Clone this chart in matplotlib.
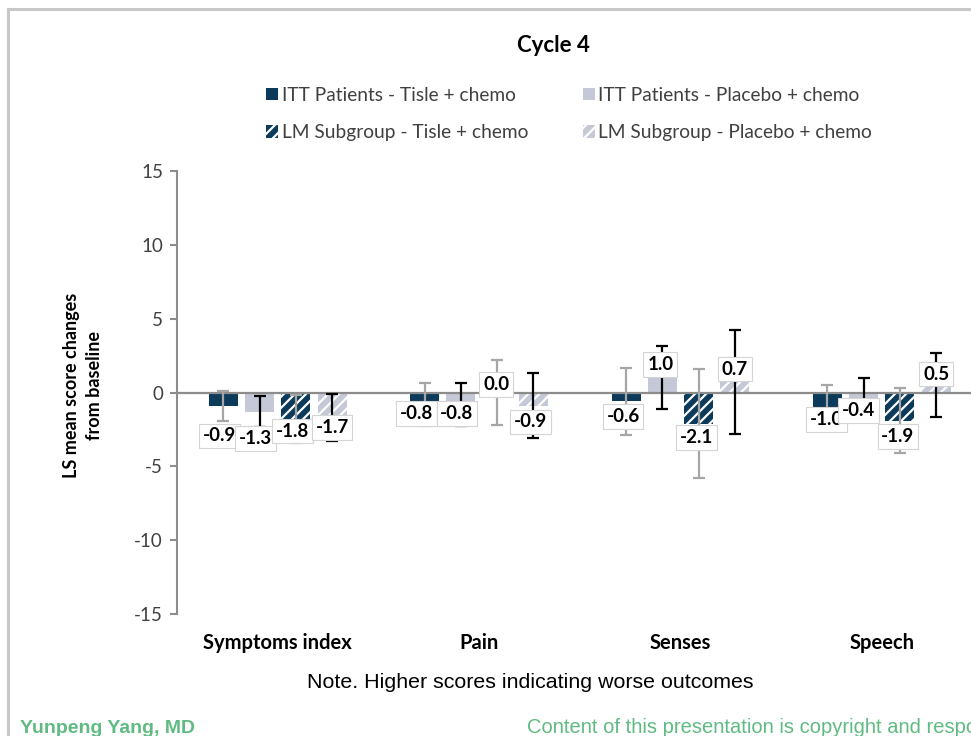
import numpy as np
import matplotlib
matplotlib.use("Agg")
import matplotlib.pyplot as plt
from matplotlib.patches import Patch
from matplotlib.lines import Line2D

categories = ["Symptoms index", "Pain", "Senses", "Speech"]
series_names = ["ITT Patients - Tisle + chemo", "ITT Patients - Placebo + chemo",
                "LM Subgroup - Tisle + chemo", "LM Subgroup - Placebo + chemo"]

itt_tisle = [-0.9, -0.8, -0.6, -1.0]
itt_placebo = [-1.3, -0.8, 1.0, -0.4]
lm_tisle = [-1.8, 0.0, -2.1, -1.9]
lm_placebo = [-1.7, -0.9, 0.7, 0.5]

itt_tisle_err = [1.0, 1.45, 2.25, 1.5]
itt_placebo_err = [1.05, 1.45, 2.15, 1.4]
lm_tisle_err = [1.65, 2.2, 3.7, 2.2]
lm_placebo_err = [1.6, 2.2, 3.5, 2.15]

yticks = [-15, -10, -5, 0, 5, 10, 15]

# label offsets in pixels (dx, dy) relative to bar end, per series
label_offsets = [
    [(-4, -30), (-8, -9), (-3, -15), (-1, -12)],
    [(-4, -27), (-4, -9), (-2, 13), (-5, -12)],
    [(-3, -12), (-1, 8), (-2, -14), (-2, -16)],
    [(0, -10), (-3, -16), (0, 13), (0, 11)],
]

NAVY = "#0b3a5a"
LIGHT = "#c4c8d7"
GREY_ERR = "#a6a6a6"
TXT = "#404040"
GREEN = "#5fbb82"

plt.rcParams["font.family"] = ["Lato", "DejaVu Sans"]
plt.rcParams["hatch.linewidth"] = 1.6
plt.rcParams["axes.unicode_minus"] = False

W, H = 971, 736
fig = plt.figure(figsize=(W / 100, H / 100), dpi=100)

# slide frame
fig.add_artist(Line2D([8 / W, 8 / W], [0, 1 - 9 / H], color="#c8c8c8", lw=2.2))
fig.add_artist(Line2D([8 / W, 1], [1 - 9 / H, 1 - 9 / H], color="#c8c8c8", lw=2.2))

ax = fig.add_axes([177 / W, 1 - 614 / H, (971 - 177) / W, (614 - 171) / H])
ax.set_xlim(-0.5, 3.443)
ax.set_ylim(-15, 15)

x = np.arange(len(categories))
width = 0.144
offsets = [-0.27, -0.09, 0.09, 0.27]
values = [itt_tisle, itt_placebo, lm_tisle, lm_placebo]
errors = [itt_tisle_err, itt_placebo_err, lm_tisle_err, lm_placebo_err]
faces = [NAVY, LIGHT, NAVY, LIGHT]
hatches = [None, None, "///", "///"]
err_colors = [GREY_ERR, "black", GREY_ERR, "black"]

for i in range(4):
    xs = x + offsets[i]
    ax.bar(xs, values[i], width, color=faces[i], hatch=hatches[i],
           edgecolor="white" if hatches[i] else faces[i], linewidth=0, zorder=2)
    ax.errorbar(xs, values[i], yerr=errors[i], fmt="none", ecolor=err_colors[i],
                elinewidth=1.6, capsize=4.3, capthick=1.6, zorder=5)
    for j, v in enumerate(values[i]):
        dx, dy = label_offsets[i][j]
        ax.annotate(f"{v:.1f}", xy=(xs[j], v), xytext=(dx, dy),
                    textcoords="offset pixels", ha="center", va="center",
                    fontsize=13.5, fontweight="bold", color="black", zorder=6,
                    bbox=dict(boxstyle="square,pad=0.2", fc="white", ec="#d4d4d4", lw=0.8))

ax.axhline(0, color="#8c8c8c", lw=1.6, zorder=3)

for s in ["top", "right", "bottom"]:
    ax.spines[s].set_visible(False)
ax.spines["left"].set_color("#8c8c8c")
ax.spines["left"].set_linewidth(1.5)

ax.set_yticks(yticks)
ax.tick_params(axis="y", colors="#8c8c8c", labelcolor=TXT, labelsize=13.5, length=5, width=1.5, pad=5)
ax.set_xticks(x)
ax.set_xticklabels(categories, fontsize=14.5, fontweight="bold", color="black")
ax.tick_params(axis="x", length=0, pad=14)

fig.text(83 / W, 1 - 385 / H, "LS mean score changes\nfrom baseline", rotation=90,
         ha="center", va="center", fontsize=13, fontweight="bold", color="black",
         linespacing=1.5)

fig.text(553 / W, 1 - 45 / H, "Cycle 4", ha="center", va="center",
         fontsize=16, fontweight="bold", color="black")

handles = [
    Patch(facecolor=NAVY, linewidth=0),
    Patch(facecolor=NAVY, hatch="///", edgecolor="white", linewidth=0),
    Patch(facecolor=LIGHT, linewidth=0),
    Patch(facecolor=LIGHT, hatch="///", edgecolor="white", linewidth=0),
]
labels = [series_names[0], series_names[2], series_names[1], series_names[3]]
leg = fig.legend(handles, labels, ncol=2, loc="upper left",
                 bbox_to_anchor=(266 / W, 1 - 87 / H), frameon=False,
                 fontsize=13.8, handlelength=0.62, handleheight=0.62,
                 handletextpad=0.2, columnspacing=2.85, labelspacing=1.05,
                 borderpad=0, borderaxespad=0)
for t in leg.get_texts():
    t.set_color(TXT)

fig.text(530 / W, 1 - 682 / H, "Note. Higher scores indicating worse outcomes",
         ha="center", va="center", fontsize=15.4, family="Liberation Sans", color="black")

fig.text(20 / W, 1 - 733 / H, "Yunpeng Yang, MD", ha="left", va="baseline",
         fontsize=14, fontweight="bold", family="Liberation Sans", color=GREEN)
fig.text(527 / W, 1 - 733 / H, "Content of this presentation is copyright and responsibility of the author",
         ha="left", va="baseline", fontsize=14.5, family="Liberation Sans", color=GREEN)

fig.savefig("out.png", dpi=100)
